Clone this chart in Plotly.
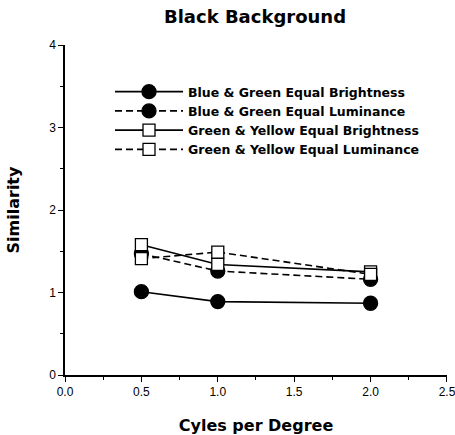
import plotly.graph_objects as go

cycles = [0.5, 1.0, 2.0]
bg_brightness = [1.01, 0.89, 0.87]
bg_luminance = [1.47, 1.26, 1.16]
gy_brightness = [1.58, 1.34, 1.25]
gy_luminance = [1.41, 1.49, 1.22]

series_names = [
    "Blue & Green Equal Brightness",
    "Blue & Green Equal Luminance",
    "Green & Yellow Equal Brightness",
    "Green & Yellow Equal Luminance",
]

BOLD = "DejaVu Sans"

fig = go.Figure()
specs = [
    (bg_brightness, "solid", "circle", "black"),
    (bg_luminance, "dash", "circle", "black"),
    (gy_brightness, "solid", "square", "white"),
    (gy_luminance, "dash", "square", "white"),
]
for name, (vals, dash, sym, fill) in zip(series_names, specs):
    fig.add_trace(go.Scatter(
        x=cycles, y=vals, name=name, mode="lines+markers",
        line=dict(color="black", width=1.6, dash="7px,4px" if dash == "dash" else "solid"),
        marker=dict(symbol=sym, size=14 if sym == "circle" else 12, color=fill,
                    line=dict(color="black", width=1.3)),
    ))

axis_common = dict(
    showline=True, linecolor="black", linewidth=1.5,
    ticks="outside", ticklen=5, tickwidth=1.2, tickcolor="black",
    showgrid=False, zeroline=False, ticklabeloverflow="allow", automargin=False,
    tickfont=dict(family="Liberation Sans", size=12, color="black"),
)

fig.update_layout(
    width=455, height=435,
    margin=dict(l=65, r=8, t=45, b=60),
    paper_bgcolor="white", plot_bgcolor="white",
    title=dict(text="<b>Black Background</b>", x=255/455, xanchor="center",
               xref="container", y=1 - 17/435, yanchor="middle",
               font=dict(family=BOLD, size=18, color="black")),
    xaxis=dict(range=[0, 2.5001], tickvals=[0, 0.5, 1.0, 1.5, 2.0, 2.5],
               ticktext=["0.0", "0.5", "1.0", "1.5", "2.0", "2.5"],
               minor=dict(ticks="outside", ticklen=3, tickwidth=1, tickcolor="black", dtick=0.25),
               title=dict(text="<b>Cyles per Degree</b>", standoff=23,
                          font=dict(family=BOLD, size=16, color="black")),
               **axis_common),
    yaxis=dict(range=[0, 4.0001], tickvals=[0, 1, 2, 3, 4],
               minor=dict(ticks="outside", ticklen=3, tickwidth=1, tickcolor="black", dtick=0.5),
               title=dict(text="<b>Similarity</b>", standoff=26,
                          font=dict(family=BOLD, size=16, color="black")),
               **axis_common),
    legend=dict(x=(110 - 65) / 382, y=1 - (77 - 45) / 330, xanchor="left", yanchor="top",
                bgcolor="rgba(0,0,0,0)", borderwidth=0, itemwidth=68,
                font=dict(family=BOLD, size=12.5, weight="bold", color="black"), tracegroupgap=0),
    showlegend=True,
)

fig.write_html("out.html")
